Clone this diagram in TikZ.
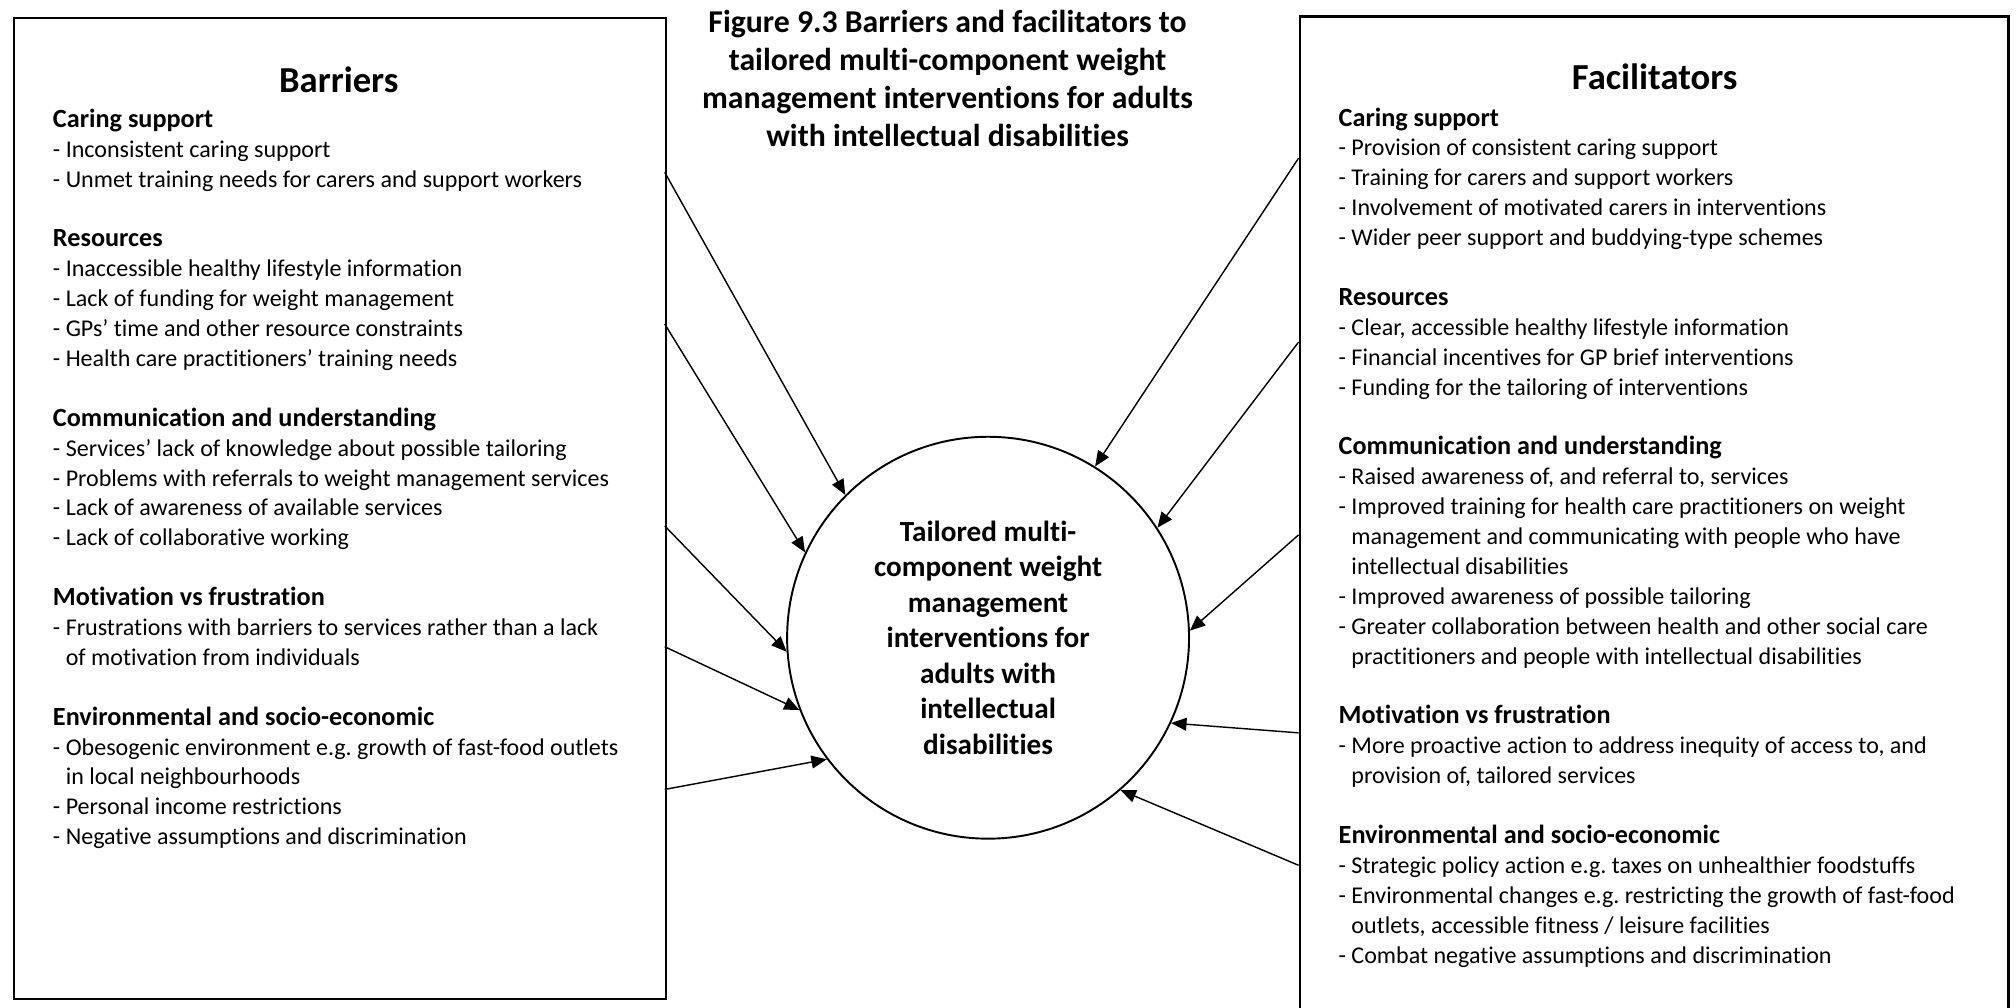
\documentclass[tikz,border=0pt]{standalone}
\usepackage{fontspec}
\setmainfont{Carlito}[Ligatures={NoCommon,NoContextual,NoRare}, RawFeature={-calt}]
\usetikzlibrary{arrows.meta}
\frenchspacing
% indent for the continuation line of a bullet item
\newcommand\contline{\hphantom{-\ }}
% section heading inside a panel
\newcommand\sechead[1]{{\bfseries\fontsize{20.4}{23.25}\selectfont #1}}
\begin{document}
\begin{tikzpicture}[x=1pt,y=-1pt,
  panel/.style={draw, line width=2pt, inner sep=0pt, anchor=north west},
  bodytext/.style={anchor=base west, align=left, inner sep=0pt,
    font=\fontsize{18.7}{23.25}\selectfont},
  paneltitle/.style={anchor=base, inner sep=0pt,
    font=\bfseries\fontsize{28.5}{34}\selectfont},
  feed/.style={-{Triangle[length=12pt,width=10pt]}, line width=1.1pt},
]
\useasboundingbox (0,0) rectangle (1568,784);
\clip (0,0) rectangle (1568,784);
\fill[white] (0,0) rectangle (1568,784);

% the two panels
\node[panel, minimum width=507pt, minimum height=763pt] (barbox) at (10,13) {};
\node[panel, minimum width=551pt, minimum height=800pt] (facbox) at (1010,12) {};

% figure heading (anchored on the baseline of its last line)
\node[anchor=base, align=center, inner sep=0pt,
  font=\bfseries\fontsize{24.7}{29.7}\selectfont] (figtitle) at (737,114)
  {Figure 9.3 Barriers and facilitators to\\
   tailored multi-component weight\\
   management interventions for adults\\
   with intellectual disabilities};

% barriers panel
\node[paneltitle] (bartitle) at (263.5,72) {Barriers};
\node[bodytext] (bartext) at (41,657) {%
\sechead{Caring support}\\
- Inconsistent caring support\\
- Unmet training needs for carers and support workers\\[23.25pt]
\sechead{Resources}\\
- Inaccessible healthy lifestyle information\\
- Lack of funding for weight management\\
- GPs’ time and other resource constraints\\
- Health care practitioners’ training needs\\[23.25pt]
\sechead{Communication and understanding}\\
- Services’ lack of knowledge about possible tailoring\\
- Problems with referrals to weight management services\\
- Lack of awareness of available services\\
- Lack of collaborative working\\[23.25pt]
\sechead{Motivation vs frustration}\\
- Frustrations with barriers to services rather than a lack\\
\contline of motivation from individuals\\[23.25pt]
\sechead{Environmental and socio-economic}\\
- Obesogenic environment e.g. growth of fast-food outlets\\
\contline in local neighbourhoods\\
- Personal income restrictions\\
- Negative assumptions and discrimination};

% facilitators panel
\node[paneltitle] (factitle) at (1287,70) {Facilitators};
\node[bodytext] (factext) at (1041,749) {%
\sechead{Caring support}\\
- Provision of consistent caring support\\
- Training for carers and support workers\\
- Involvement of motivated carers in interventions\\
- Wider peer support and buddying-type schemes\\[23.25pt]
\sechead{Resources}\\
- Clear, accessible healthy lifestyle information\\
- Financial incentives for GP brief interventions\\
- Funding for the tailoring of interventions\\[23.25pt]
\sechead{Communication and understanding}\\
- Raised awareness of, and referral to, services\\
- Improved training for health care practitioners on weight\\
\contline management and communicating with people who have\\
\contline intellectual disabilities\\
- Improved awareness of possible tailoring\\
- Greater collaboration between health and other social care\\
\contline practitioners and people with intellectual disabilities\\[23.25pt]
\sechead{Motivation vs frustration}\\
- More proactive action to address inequity of access to, and\\
\contline provision of, tailored services\\[23.25pt]
\sechead{Environmental and socio-economic}\\
- Strategic policy action e.g. taxes on unhealthier foodstuffs\\
- Environmental changes e.g. restricting the growth of fast-food\\
\contline outlets, accessible fitness / leisure facilities\\
- Combat negative assumptions and discrimination};

% central circle
\node[circle, draw, line width=1.5pt, minimum size=312.6pt, inner sep=0pt,
  align=center, font=\bfseries\fontsize{22.7}{27.6}\selectfont] (hub) at (768.5,496)
  {Tailored multi-\\component weight\\management\\interventions for\\adults with\\intellectual\\disabilities};

% arrow origins on the panel edges
\coordinate (b1) at (517,134);
\coordinate (b2) at (517,252);
\coordinate (b3) at (517,409);
\coordinate (b4) at (517,503);
\coordinate (b5) at (517,614);
\coordinate (f1) at (1010,123);
\coordinate (f2) at (1010,266);
\coordinate (f3) at (1010,416);
\coordinate (f4) at (1010,570);
\coordinate (f5) at (1010,673);

% barriers feeding in
\draw[feed] (b1) -- (hub.135.9);
\draw[feed] (b2) -- (hub.155.5);
\draw[feed] (b3) -- (hub.184.4);
\draw[feed] (b4) -- (hub.201.9);
\draw[feed] (b5) -- (hub.217);
% facilitators feeding in
\draw[feed] (f1) -- (hub.58);
\draw[feed] (f2) -- (hub.33.4);
\draw[feed] (f3) -- (hub.2.5);
\draw[feed] (f4) -- (hub.-25.8);
\draw[feed] (f5) -- (hub.-49.3);
\end{tikzpicture}
\end{document}
